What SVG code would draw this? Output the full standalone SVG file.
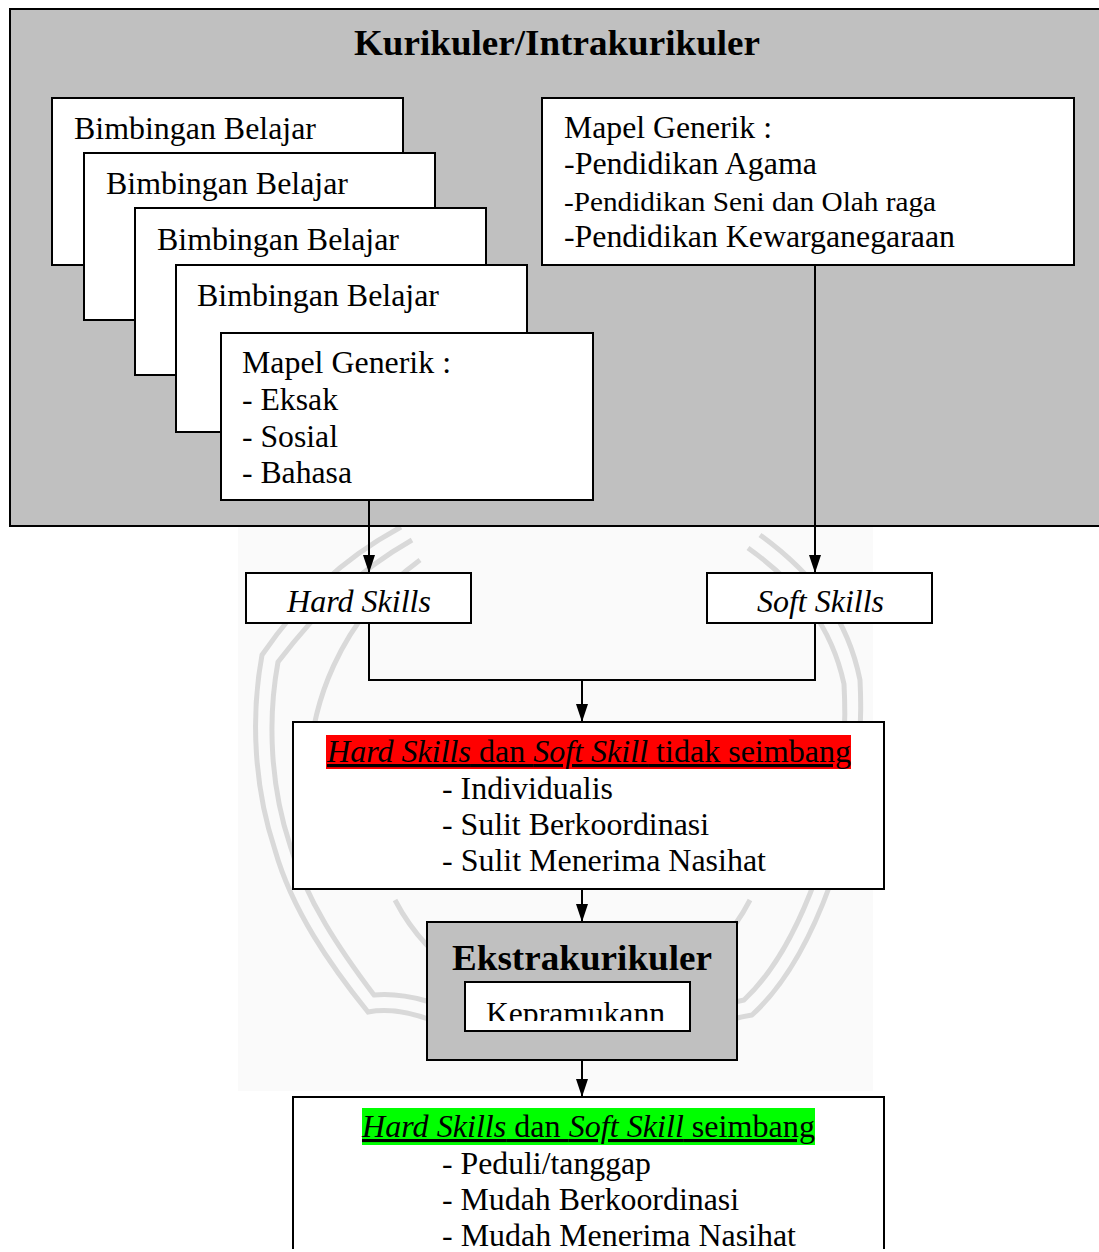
<svg xmlns="http://www.w3.org/2000/svg" width="1099" height="1252" viewBox="0 0 1099 1252">
<defs>
<style>
.t{font-family:"Times New Roman","Liberation Serif",Tinos,serif;font-size:31px;fill:#000}
.b{font-weight:bold;font-size:35px}
.i{font-style:italic}
.box{fill:#fff;stroke:#000;stroke-width:2}
.gbox{fill:#c0c0c0;stroke:#000;stroke-width:2}
.ln{fill:none;stroke:#000;stroke-width:2}
.wm{fill:none;stroke:#d9d9d9;stroke-width:5}
</style>
<marker id="ah" viewBox="0 0 18 12" refX="18" refY="6" markerWidth="18" markerHeight="12" markerUnits="userSpaceOnUse" orient="auto">
<path d="M0,0 L18,6 L0,12 Z" fill="#000"/>
</marker>
<clipPath id="kclip"><rect x="465" y="982" width="226" height="39"/></clipPath>
<clipPath id="bclip"><rect x="0" y="0" width="1099" height="1249"/></clipPath>
<clipPath id="wclip"><rect x="238" y="527" width="635" height="564"/></clipPath>
</defs>

<rect width="1099" height="1252" fill="#fff"/>

<g id="watermark" clip-path="url(#wclip)">
<rect x="238" y="527" width="635" height="564" fill="#fafafa"/>
<path class="wm" d="M401,527 C340,560 300,600 262,655 C250,720 255,790 275,850 C292,910 330,965 368,1012 C400,1006 440,1020 480,1045"/>
<path class="wm" d="M412,540 C356,572 318,610 278,662 C267,722 271,788 290,845 C306,900 340,950 374,995 C405,992 445,1003 488,1028"/>
<path class="wm" d="M760,535 C815,575 848,620 860,680 C864,760 850,830 830,885 C810,940 785,985 752,1015 C720,1020 690,1035 665,1050"/>
<path class="wm" d="M748,548 C800,585 832,628 844,684 C848,760 836,826 816,878 C797,930 774,972 744,1000 C712,1006 684,1020 660,1036"/>
<path class="wm" d="M395,900 A200,200 0 0 0 750,900"/>
<path class="wm" d="M310,800 A270,270 0 0 1 420,560"/>
</g>

<g id="kurikuler">
<rect class="gbox" x="10" y="9" width="1095" height="517"/>
<text class="t b" x="557" y="55" text-anchor="middle" textLength="406" lengthAdjust="spacingAndGlyphs">Kurikuler/Intrakurikuler</text>
</g>

<g id="bimbingan1">
<rect class="box" x="52" y="98" width="351" height="167"/>
<text class="t" x="74" y="139" textLength="242" lengthAdjust="spacingAndGlyphs">Bimbingan Belajar</text>
</g>
<g id="bimbingan2">
<rect class="box" x="84" y="153" width="351" height="167"/>
<text class="t" x="106" y="194" textLength="242" lengthAdjust="spacingAndGlyphs">Bimbingan Belajar</text>
</g>
<g id="bimbingan3">
<rect class="box" x="135" y="208" width="351" height="167"/>
<text class="t" x="157" y="250" textLength="242" lengthAdjust="spacingAndGlyphs">Bimbingan Belajar</text>
</g>
<g id="bimbingan4">
<rect class="box" x="176" y="265" width="351" height="167"/>
<text class="t" x="197" y="306" textLength="242" lengthAdjust="spacingAndGlyphs">Bimbingan Belajar</text>
</g>

<g id="mapel-eksak">
<rect class="box" x="221" y="333" width="372" height="167"/>
<text class="t" x="242" y="373" textLength="209" lengthAdjust="spacingAndGlyphs">Mapel Generik :</text>
<text class="t" x="242" y="410" textLength="96" lengthAdjust="spacingAndGlyphs">- Eksak</text>
<text class="t" x="242" y="447" textLength="96" lengthAdjust="spacingAndGlyphs">- Sosial</text>
<text class="t" x="242" y="483" textLength="110" lengthAdjust="spacingAndGlyphs">- Bahasa</text>
</g>

<g id="mapel-agama">
<rect class="box" x="542" y="98" width="532" height="167"/>
<text class="t" x="564" y="138" textLength="208" lengthAdjust="spacingAndGlyphs">Mapel Generik :</text>
<text class="t" x="564" y="174" textLength="253" lengthAdjust="spacingAndGlyphs">-Pendidikan Agama</text>
<text class="t" x="564" y="211" style="font-size:28px" textLength="372" lengthAdjust="spacingAndGlyphs">-Pendidikan Seni dan Olah raga</text>
<text class="t" x="564" y="247" textLength="391" lengthAdjust="spacingAndGlyphs">-Pendidikan Kewarganegaraan</text>
</g>

<g id="connectors">
<line class="ln" x1="369" y1="500" x2="369" y2="573" marker-end="url(#ah)"/>
<line class="ln" x1="815" y1="265" x2="815" y2="573" marker-end="url(#ah)"/>
<polyline class="ln" points="369,623 369,680 815,680 815,623"/>
<line class="ln" x1="582" y1="680" x2="582" y2="722" marker-end="url(#ah)"/>
<line class="ln" x1="582" y1="889" x2="582" y2="922" marker-end="url(#ah)"/>
<line class="ln" x1="582" y1="1060" x2="582" y2="1097" marker-end="url(#ah)"/>
</g>

<g id="hard-skills">
<rect class="box" x="246" y="573" width="225" height="50"/>
<text class="t i" x="287" y="612" textLength="144" lengthAdjust="spacingAndGlyphs">Hard Skills</text>
</g>
<g id="soft-skills">
<rect class="box" x="707" y="573" width="225" height="50"/>
<text class="t i" x="757" y="612" textLength="127" lengthAdjust="spacingAndGlyphs">Soft Skills</text>
</g>

<g id="tidak-seimbang">
<rect class="box" x="293" y="722" width="591" height="167"/>
<rect x="326" y="735" width="525" height="34" fill="#ff0000"/>
<text class="t" x="327" y="762" text-decoration="underline" textLength="524" lengthAdjust="spacingAndGlyphs"><tspan font-style="italic">Hard Skills</tspan> dan <tspan font-style="italic">Soft Skill</tspan> tidak seimbang</text>
<text class="t" x="442" y="799" textLength="171" lengthAdjust="spacingAndGlyphs">- Individualis</text>
<text class="t" x="442" y="835" textLength="267" lengthAdjust="spacingAndGlyphs">- Sulit Berkoordinasi</text>
<text class="t" x="442" y="871" textLength="324" lengthAdjust="spacingAndGlyphs">- Sulit Menerima Nasihat</text>
</g>

<g id="ekstrakurikuler">
<rect class="gbox" x="427" y="922" width="310" height="138"/>
<text class="t b" x="452" y="970" textLength="260" lengthAdjust="spacingAndGlyphs">Ekstrakurikuler</text>
<rect class="box" x="465" y="982" width="225" height="49"/>
<text class="t" x="486" y="1024" clip-path="url(#kclip)" textLength="179" lengthAdjust="spacingAndGlyphs">Kepramukann</text>
</g>

<g id="seimbang" clip-path="url(#bclip)">
<rect class="box" x="293" y="1097" width="591" height="170"/>
<rect x="362" y="1108" width="453" height="37" fill="#00ff00"/>
<text class="t" x="362" y="1137" text-decoration="underline" textLength="453" lengthAdjust="spacingAndGlyphs"><tspan font-style="italic">Hard Skills</tspan> dan <tspan font-style="italic">Soft Skill</tspan> seimbang</text>
<text class="t" x="442" y="1174" textLength="209" lengthAdjust="spacingAndGlyphs">- Peduli/tanggap</text>
<text class="t" x="442" y="1210" textLength="297" lengthAdjust="spacingAndGlyphs">- Mudah Berkoordinasi</text>
<text class="t" x="442" y="1246" textLength="354" lengthAdjust="spacingAndGlyphs">- Mudah Menerima Nasihat</text>
</g>
</svg>
